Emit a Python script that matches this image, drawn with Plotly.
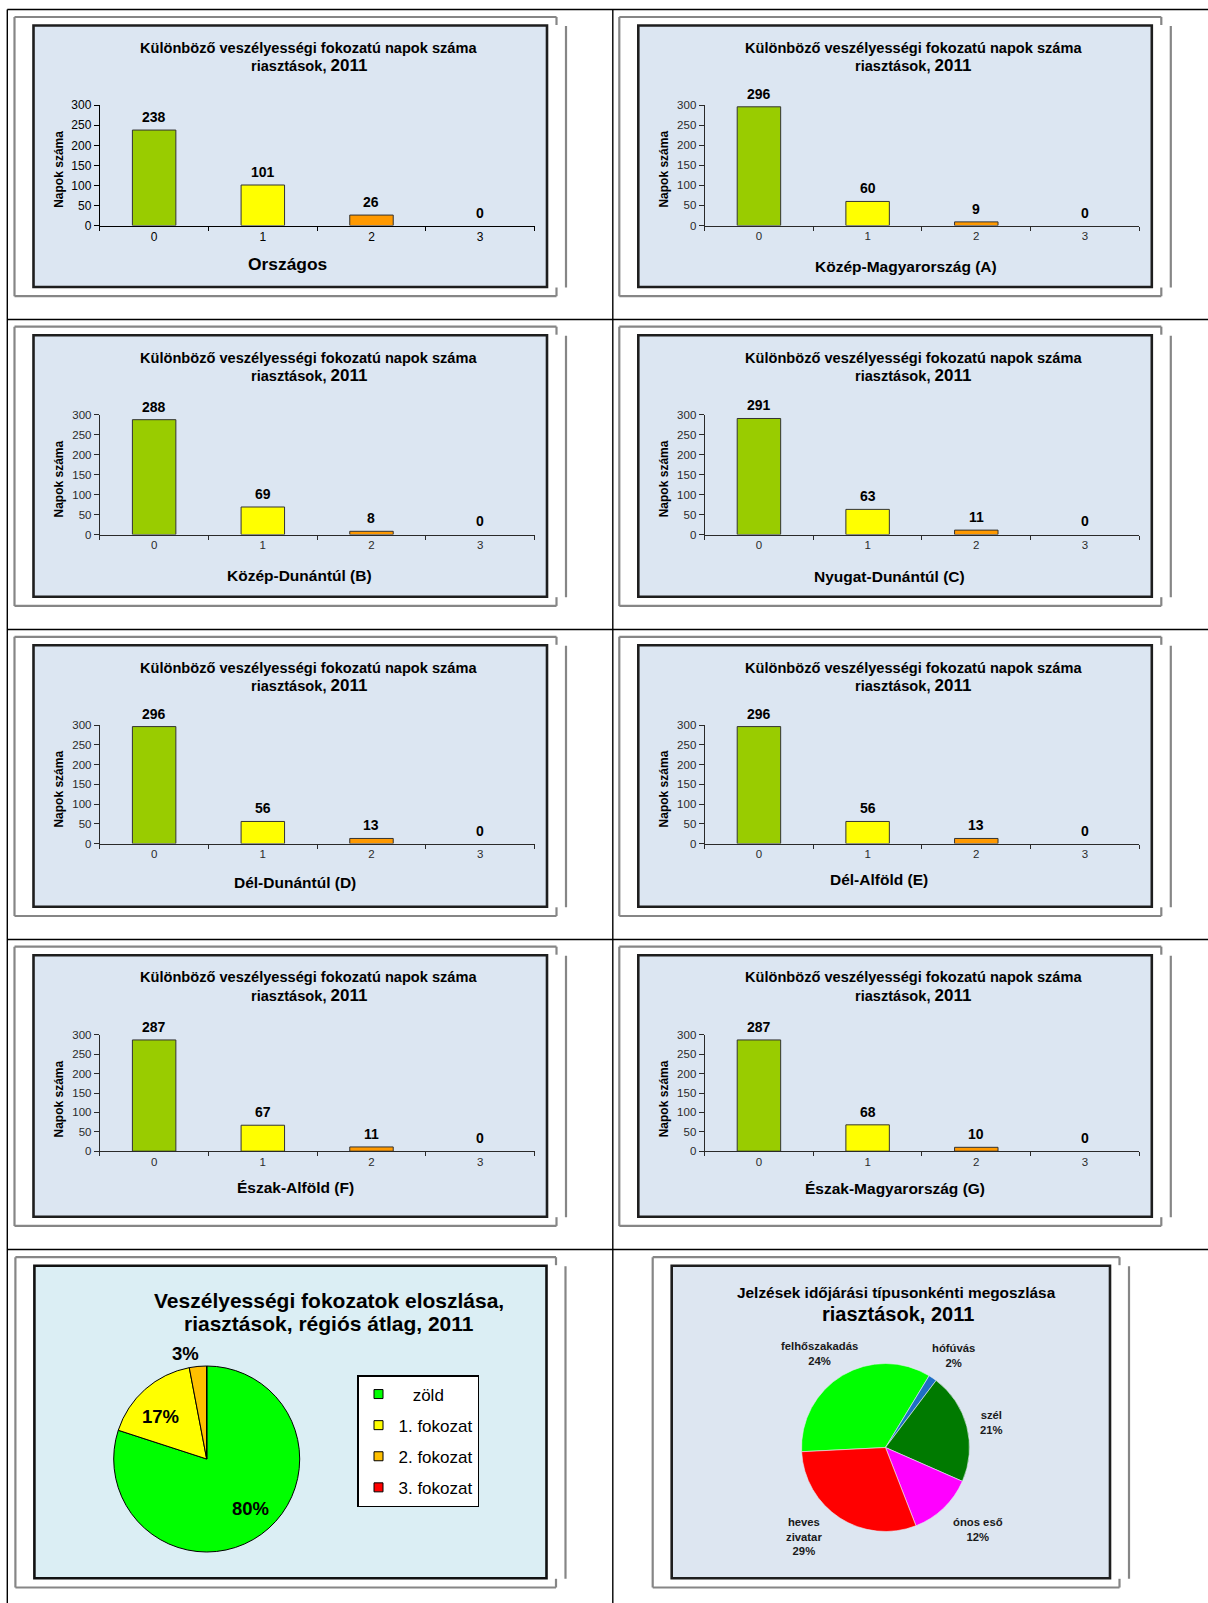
import math
import plotly.graph_objects as go

W, H = 1208, 1603

# ---------------- data ----------------
categories = ["0", "1", "2", "3"]
regions = ["Országos", "Közép-Magyarország (A)", "Közép-Dunántúl (B)", "Nyugat-Dunántúl (C)",
           "Dél-Dunántúl (D)", "Dél-Alföld (E)", "Észak-Alföld (F)", "Észak-Magyarország (G)"]
orszagos = [238, 101, 26, 0]
kozep_magyarorszag = [296, 60, 9, 0]
kozep_dunantul = [288, 69, 8, 0]
nyugat_dunantul = [291, 63, 11, 0]
del_dunantul = [296, 56, 13, 0]
del_alfold = [296, 56, 13, 0]
eszak_alfold = [287, 67, 11, 0]
eszak_magyarorszag = [287, 68, 10, 0]
region_values = [orszagos, kozep_magyarorszag, kozep_dunantul, nyugat_dunantul,
                 del_dunantul, del_alfold, eszak_alfold, eszak_magyarorszag]
bar_colors = ["#99cc00", "#ffff00", "#ff9900", "#ff0000"]
bar_title_1 = "Különböző veszélyességi fokozatú napok száma"
bar_title_2a = "riasztások, "
bar_title_2b = "2011"
y_title = "Napok száma"
y_ticks = [0, 50, 100, 150, 200, 250, 300]

pie1_title_1 = "Veszélyességi fokozatok eloszlása,"
pie1_title_2 = "riasztások, régiós átlag, 2011"
pie1_labels = ["zöld", "1. fokozat", "2. fokozat", "3. fokozat"]
pie1_values = [80, 17, 3, 0]
pie1_colors = ["#00ff00", "#ffff00", "#ffc000", "#ff0000"]

pie2_title_1 = "Jelzések időjárási típusonkénti megoszlása"
pie2_title_2 = "riasztások, 2011"
pie2_labels = ["felhőszakadás", "hófúvás", "szél", "ónos eső", "heves zivatar"]
pie2_label_lines = ["felhőszakadás", "hófúvás", "szél", "ónos eső", "heves<br>zivatar"]
pie2_values = [34.5, 1.6, 21.3, 12.5, 30.1]          # slice sizes as drawn
pie2_shown_pct = ["24%", "2%", "21%", "12%", "29%"]   # percentages printed on the chart
pie2_colors = ["#00ff00", "#1f6fc5", "#007a00", "#ff00ff", "#ff0000"]

FONT = "Arial, Liberation Sans, sans-serif"

# ---------------- helpers ----------------
def fx(x):
    return x / W

def fy(y):
    return 1 - y / H

shapes = []
annotations = []

def line(x0, y0, x1, y1, color="#000000", w=1.0):
    shapes.append(dict(type="line", xref="paper", yref="paper",
                       x0=fx(x0), x1=fx(x1), y0=fy(y0), y1=fy(y1),
                       line=dict(color=color, width=w), layer="below"))

def rect(x0, y0, x1, y1, fill, color, w):
    shapes.append(dict(type="rect", xref="paper", yref="paper",
                       x0=fx(x0), x1=fx(x1), y0=fy(y0), y1=fy(y1),
                       fillcolor=fill, line=dict(color=color, width=w), layer="below"))

def text(x, y, s, size, color="#000000", angle=0, xanchor="center", yanchor="middle"):
    annotations.append(dict(xref="paper", yref="paper", x=fx(x), y=fy(y), text=s,
                            showarrow=False, textangle=angle, xanchor=xanchor, yanchor=yanchor,
                            font=dict(family=FONT, size=size, color=color)))

def frame(L, T, R, B):
    g = "#868686"
    gw = 2.2
    line(L - 19, T - 8.5, R + 9.5, T - 8.5, g, gw)
    line(L - 19, T - 8.5, L - 19, B + 9.2, g, gw)
    line(L - 19, B + 9.2, R + 9.5, B + 9.2, g, gw)
    line(R + 9.5, T - 8.5, R + 9.5, T - 0.5, g, gw)
    line(R + 9.5, B + 0.5, R + 9.5, B + 9.2, g, gw)
    line(R + 19, T + 0.5, R + 19, B + 0.5, g, gw)

# ---------------- table grid ----------------
for k in range(5):
    yk = 9.5 + 310 * k
    line(7.3, yk, W, yk, "#000000", 1.4)
line(7.3, 9.5, 7.3, H, "#000000", 1.4)
line(612.8, 9.5, 612.8, H, "#000000", 1.4)

# ---------------- bar charts ----------------
col_L = [33.5, 638.3]
row_T = [25.5, 335.2, 645.3, 955.2]
CW, CH = 513.5, 261.5
zero_rel = [200.0, 199.3, 198.3, 196.0]
top_rel = 79.7
xt_cx = [254, 268, 266, 251, 261, 241, 262, 257]
xt_cy = [238.8, 241.2, 240.6, 241.7, 236.8, 233.8, 232.3, 233.6]

fig = go.Figure()
layout_axes = {}

for i, (name, vals) in enumerate(zip(regions, region_values)):
    row, col = divmod(i, 2)
    L, T = col_L[col], row_T[row]
    R, B = L + CW, T + CH
    frame(L, T, R, B)
    rect(L, T, R, B, "#dce6f2", "#1e1e1e", 2.6)

    n = "" if i == 0 else str(i + 1)
    axis_color = "#000000" if i == 0 else "#2a2a2a"
    tick_size = 12 if i == 0 else 11.5
    fig.add_trace(go.Bar(
        x=categories, y=vals, width=0.4,
        marker=dict(color=bar_colors,
                    line=dict(color="#333333", width=[1 if v > 0 else 0 for v in vals])),
        xaxis="x" + n, yaxis="y" + n, showlegend=False, hoverinfo="skip"))

    layout_axes["xaxis" + n] = dict(
        domain=[fx(L + 66.3), fx(L + 501)], anchor="y" + n, type="category",
        categoryorder="array", categoryarray=categories, range=[-0.5, 3.5],
        tickson="boundaries", ticks="outside", ticklen=4, tickcolor=axis_color,
        showline=True, linecolor=axis_color, linewidth=1, showgrid=False, zeroline=False,
        automargin=False,
        tickfont=dict(family=FONT, size=tick_size, color=axis_color), fixedrange=True)
    layout_axes["yaxis" + n] = dict(
        domain=[fy(T + zero_rel[row]), fy(T + top_rel)], anchor="x" + n,
        range=[0, 300], tickvals=y_ticks, ticks="outside", ticklen=5, tickcolor=axis_color,
        showline=True, linecolor=axis_color, linewidth=1, showgrid=False, zeroline=False,
        automargin=False,
        tickfont=dict(family=FONT, size=tick_size, color=axis_color), fixedrange=True)

    for c, v in zip(categories, vals):
        annotations.append(dict(xref="x" + n, yref="y" + n, x=c, y=v, text="<b>%d</b>" % v,
                                showarrow=False, yanchor="bottom", yshift=3,
                                font=dict(family=FONT, size=14, color="#000000")))

    text(L + 275, T + 22.3, "<b>" + bar_title_1 + "</b>", 14.6)
    text(L + 275, T + 40.2, "<b>" + bar_title_2a + "<span style='font-size:17px'>" +
         bar_title_2b + "</span></b>", 14.6)
    text(L + 25.3, T + 143.5, "<b>" + y_title + "</b>", 12, angle=-90)
    text(L + xt_cx[i], T + xt_cy[i], "<b>" + name + "</b>", 17.4 if i == 0 else 15.5)

# ---------------- pie 1 ----------------
P1 = (34.4, 1265.7, 546.5, 1578.3)
frame(*P1)
rect(*P1, "#dbeef4", "#111111", 2.6)
text(328.8, 1300, "<b>" + pie1_title_1 + "</b>", 21)
text(328.8, 1323.3, "<b>" + pie1_title_2 + "</b>", 21)

c1x, c1y, r1 = 206.7, 1459, 93
fig.add_trace(go.Pie(
    labels=pie1_labels, values=pie1_values, sort=False, direction="clockwise", rotation=0,
    domain=dict(x=[fx(c1x - r1), fx(c1x + r1)], y=[fy(c1y + r1), fy(c1y - r1)]),
    marker=dict(colors=pie1_colors, line=dict(color="#000000", width=1)),
    textinfo="none", showlegend=False, hoverinfo="skip"))

# percentage labels of pie 1, placed along each slice's middle angle
tot1 = float(sum(pie1_values))
radial = [0.71, 0.68, 1.16, 0]
label_turn = -6.0
acc = 0.0
for v, rf in zip(pie1_values, radial):
    if v > 0:
        mid = math.radians((acc + v / 2) / tot1 * 360 + label_turn)
        text(c1x + rf * r1 * math.sin(mid), c1y - rf * r1 * math.cos(mid),
             "<b>%d%%</b>" % round(100 * v / tot1), 18.5)
    acc += v

# legend for pie 1 (one entry per category)
for lab, colr in zip(pie1_labels, pie1_colors):
    disp = ("\u00a0\u00a0\u00a0" + lab) if lab == "zöld" else lab
    fig.add_trace(go.Scatter(
        x=[None], y=[None], mode="markers", name=disp, legendgroup=lab,
        marker=dict(symbol="square", size=9, color=colr, line=dict(color="#000000", width=1)),
        xaxis="x", yaxis="y", hoverinfo="skip"))

# ---------------- pie 2 ----------------
P2 = (671.7, 1265.7, 1110, 1578.3)
frame(*P2)
rect(*P2, "#dde6f1", "#1e1e1e", 2.6)
text(896, 1292.3, "<b>" + pie2_title_1 + "</b>", 15.4)
text(898, 1314, "<b>" + pie2_title_2 + "</b>", 20)

c2x, c2y, r2 = 885.5, 1447.5, 84
fig.add_trace(go.Pie(
    labels=pie2_labels, values=pie2_values, sort=False, direction="clockwise", rotation=267.1,
    domain=dict(x=[fx(c2x - r2), fx(c2x + r2)], y=[fy(c2y + r2), fy(c2y - r2)]),
    marker=dict(colors=pie2_colors, line=dict(color="#e8eef6", width=0.6)),
    textinfo="none", showlegend=False, hoverinfo="skip"))

# category labels of pie 2 (label positions in the chart)
pie2_label_pos = [(819, 1353), (953.6, 1355.5), (991.6, 1422.5), (978, 1529.5), (803.6, 1536.5)]
for lab, pct, (lx, ly) in zip(pie2_label_lines, pie2_shown_pct, pie2_label_pos):
    text(lx, ly, "<b>%s<br>%s</b>" % (lab, pct), 11.3, color="#1a1a1a")

fig.update_layout(
    width=W, height=H, autosize=False,
    margin=dict(l=0, r=0, t=0, b=0, pad=0, autoexpand=False),
    paper_bgcolor="#ffffff", plot_bgcolor="rgba(0,0,0,0)",
    font=dict(family=FONT, color="#000000"),
    shapes=shapes, annotations=annotations,
    showlegend=True,
    legend=dict(x=fx(357), y=fy(1375), xanchor="left", yanchor="top",
                bgcolor="#ffffff", bordercolor="#000000", borderwidth=1.5,
                font=dict(family=FONT, size=17, color="#000000"),
                traceorder="grouped", tracegroupgap=6, itemwidth=30),
    **layout_axes)

fig.write_html("out.html", config={"displayModeBar": False, "staticPlot": True})
